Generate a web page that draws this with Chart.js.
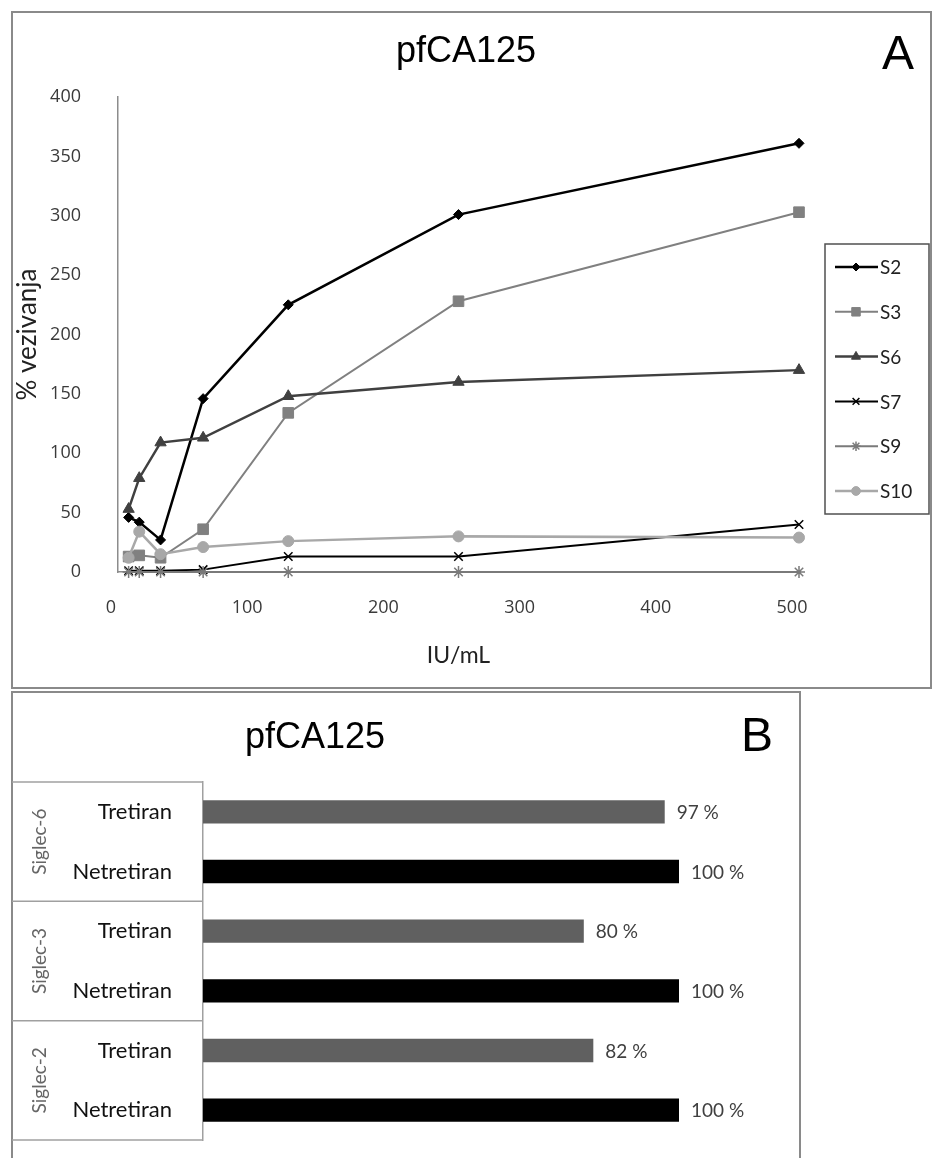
<!DOCTYPE html>
<html>
<head>
<meta charset="utf-8">
<title>pfCA125</title>
<script src="https://cdn.jsdelivr.net/npm/chart.js@4.4.1/dist/chart.umd.min.js"></script>
<style>
  html, body { margin: 0; padding: 0; background: #fff; }
  #wrap { position: relative; width: 933px; height: 1158px; }
  canvas { position: absolute; left: 0; }
  #chartA { top: 0; }
  #chartB { top: 690px; }
</style>
</head>
<body>
<div id="wrap">
  <canvas id="chartA" width="933" height="690"></canvas>
  <canvas id="chartB" width="933" height="468"></canvas>
</div>
<script>
// panel A - binding vs concentration
const titleText = 'pfCA125';
const concentrations = [7.8, 15.6, 31.25, 62.5, 125, 250, 500];
const seriesNames = ['S2', 'S3', 'S6', 'S7', 'S9', 'S10'];
const s2 = [46, 42, 27, 146, 225, 301, 361];
const s3 = [13, 14, 12, 36, 134, 228, 303];
const s6 = [53, 79, 109, 113, 148, 160, 170];
const s7 = [1, 1, 1, 2, 13, 13, 40];
const s9 = [0, 0, 0, 0, 0, 0, 0];
const s10 = [12, 34, 15, 21, 26, 30, 29];
const xTicks = [0, 100, 200, 300, 400, 500];
const yTicks = [0, 50, 100, 150, 200, 250, 300, 350, 400];

// panel B - treated vs untreated
const bCategories = ['Tretiran', 'Netretiran', 'Tretiran', 'Netretiran', 'Tretiran', 'Netretiran'];
const bGroups = ['Siglec-6', 'Siglec-3', 'Siglec-2'];
const bValues = [97, 100, 80, 100, 82, 100];

const tickFont = { family: 'Open Sans', size: 18 };
const tickColor = '#3a3a3a';

function pts(vals) {
  return concentrations.map((c, i) => ({ x: c, y: vals[i] }));
}

const styles = [
  { color: '#000000', width: 2.5, point: 'rectRot', r: 5 },
  { color: '#808080', width: 2, point: 'rect', r: 7.5 },
  { color: '#404040', width: 2.5, point: 'triangle', r: 6.5 },
  { color: '#000000', width: 2, point: 'crossRot', r: 6 },
  { color: '#7a7a7a', width: 2, point: 'star', r: 6 },
  { color: '#a8a8a8', width: 2.5, point: 'circle', r: 5.5 }
];
const seriesValues = [s2, s3, s6, s7, s9, s10];

const datasetsA = seriesNames.map((name, i) => ({
  label: name,
  data: pts(seriesValues[i]),
  borderColor: styles[i].color,
  borderWidth: styles[i].width,
  pointStyle: styles[i].point,
  pointRadius: styles[i].r,
  pointBackgroundColor: styles[i].color,
  pointBorderColor: styles[i].color,
  pointBorderWidth: (styles[i].point === 'crossRot' || styles[i].point === 'star') ? 1.5 : 1,
  tension: 0,
  clip: false,
  order: seriesNames.length - i
}));

function drawMarker(ctx, ds, x, y, r) {
  ctx.fillStyle = ds.pointBackgroundColor;
  ctx.strokeStyle = ds.pointBorderColor;
  ctx.lineWidth = ds.pointBorderWidth;
  if (Chart.helpers && Chart.helpers.drawPoint) {
    Chart.helpers.drawPoint(ctx, { pointStyle: ds.pointStyle, radius: r, rotation: 0, borderWidth: ds.pointBorderWidth }, x, y);
  } else {
    ctx.beginPath();
    ctx.arc(x, y, r, 0, Math.PI * 2);
    ctx.fill();
  }
}

const panelA = {
  id: 'panelA',
  beforeDraw(chart) {
    const ctx = chart.ctx;
    ctx.save();
    ctx.fillStyle = '#fff';
    ctx.fillRect(0, 0, chart.width, chart.height);
    ctx.strokeStyle = '#8a8a8a';
    ctx.lineWidth = 2;
    ctx.strokeRect(12, 12, 919, 676);
    ctx.fillStyle = '#000';
    ctx.textAlign = 'center';
    ctx.textBaseline = 'middle';
    ctx.font = '36px "Liberation Sans"';
    ctx.fillText(titleText, 466, 52);
    ctx.font = '48px "Liberation Sans"';
    ctx.fillText('A', 898, 56);
    ctx.restore();
  },
  afterDraw(chart) {
    // legend box on the right
    const ctx = chart.ctx;
    ctx.save();
    ctx.strokeStyle = '#505050';
    ctx.lineWidth = 1.5;
    ctx.strokeRect(825, 244, 104, 270);
    chart.data.datasets.forEach((ds, i) => {
      const y = 267 + i * 44.8;
      ctx.strokeStyle = ds.borderColor;
      ctx.lineWidth = ds.borderWidth;
      ctx.beginPath();
      ctx.moveTo(835, y);
      ctx.lineTo(878, y);
      ctx.stroke();
      drawMarker(ctx, ds, 856, y, ds.pointRadius * 0.8);
      ctx.fillStyle = '#222';
      ctx.font = '19px Lato';
      ctx.textAlign = 'left';
      ctx.textBaseline = 'middle';
      ctx.fillText(ds.label, 880, y + 1);
    });
    ctx.restore();
  }
};

new Chart(document.getElementById('chartA'), {
  type: 'line',
  data: { datasets: datasetsA },
  options: {
    responsive: false,
    animation: false,
    devicePixelRatio: 1,
    events: [],
    layout: { padding: { top: 97, right: 134, bottom: 0, left: 0 } },
    scales: {
      x: {
        type: 'linear',
        min: xTicks[0],
        max: xTicks[xTicks.length - 1],
        afterFit: s => { s.height = 118; },
        afterBuildTicks: s => { s.ticks = xTicks.map(v => ({ value: v })); },
        grid: { display: false, drawTicks: false },
        border: { display: true, color: '#8c8c8c', width: 1.5 },
        ticks: { padding: 25, labelOffset: -7, font: tickFont, color: tickColor },
        title: { display: true, text: 'IU/mL', font: { family: 'Lato', size: 23 }, color: '#222', padding: 21 }
      },
      y: {
        min: yTicks[0],
        max: yTicks[yTicks.length - 1],
        afterFit: s => { s.width = 118; },
        afterBuildTicks: s => { s.ticks = yTicks.map(v => ({ value: v })); },
        grid: { display: false, drawTicks: false },
        border: { display: true, color: '#8c8c8c', width: 1.5 },
        ticks: { padding: 37, font: tickFont, color: tickColor },
        title: { display: true, text: '% vezivanja', font: { family: 'Lato', size: 26 }, color: '#222', padding: 12 }
      }
    },
    plugins: { legend: { display: false }, tooltip: { enabled: false } }
  },
  plugins: [panelA]
});

// panel B
const panelB = {
  id: 'panelB',
  beforeDraw(chart) {
    const ctx = chart.ctx;
    ctx.save();
    ctx.fillStyle = '#fff';
    ctx.fillRect(0, 0, chart.width, chart.height);
    ctx.strokeStyle = '#8a8a8a';
    ctx.lineWidth = 2;
    ctx.strokeRect(12, 2, 788, 470);
    ctx.fillStyle = '#000';
    ctx.textAlign = 'center';
    ctx.textBaseline = 'middle';
    ctx.font = '36px "Liberation Sans"';
    ctx.fillText(titleText, 315, 48);
    ctx.font = '48px "Liberation Sans"';
    ctx.fillText('B', 757, 48);
    ctx.restore();
  },
  afterDraw(chart) {
    const ctx = chart.ctx;
    const y = chart.scales.y;
    const area = chart.chartArea;
    ctx.save();
    // group frame
    ctx.strokeStyle = '#a0a0a0';
    ctx.lineWidth = 1.5;
    for (let g = 0; g <= bGroups.length; g++) {
      const py = y.getPixelForValue(g * 2 - 0.5);
      ctx.beginPath();
      ctx.moveTo(12, py);
      ctx.lineTo(area.left, py);
      ctx.stroke();
    }
    // group labels, rotated
    ctx.fillStyle = '#666';
    ctx.font = '19px Lato';
    ctx.textAlign = 'center';
    ctx.textBaseline = 'middle';
    bGroups.forEach((name, g) => {
      const py = y.getPixelForValue(g * 2 + 0.5);
      ctx.save();
      ctx.translate(40, py);
      ctx.rotate(-Math.PI / 2);
      ctx.fillText(name, 0, 0);
      ctx.restore();
    });
    // value labels
    const meta = chart.getDatasetMeta(0);
    ctx.fillStyle = '#404040';
    ctx.font = '19px Lato';
    ctx.textAlign = 'left';
    meta.data.forEach((bar, i) => {
      ctx.fillText(bValues[i] + ' %', bar.x + 12, bar.y + 1);
    });
    ctx.restore();
  }
};

new Chart(document.getElementById('chartB'), {
  type: 'bar',
  data: {
    labels: bCategories,
    datasets: [{
      data: bValues,
      backgroundColor: bCategories.map(c => c === 'Tretiran' ? '#606060' : '#000000'),
      barPercentage: 0.39,
      categoryPercentage: 1
    }]
  },
  options: {
    indexAxis: 'y',
    responsive: false,
    animation: false,
    devicePixelRatio: 1,
    events: [],
    layout: { padding: { top: 92, right: 254, bottom: 18, left: 0 } },
    scales: {
      x: { display: false, min: 0, max: 100 },
      y: {
        afterFit: s => { s.width = 203; },
        grid: { display: false, drawTicks: true, tickLength: 31 },
        border: { display: true, color: '#a0a0a0', width: 1.5 },
        ticks: { padding: 0, font: { family: 'Lato', size: 22 }, color: '#111' }
      }
    },
    plugins: { legend: { display: false }, tooltip: { enabled: false } }
  },
  plugins: [panelB]
});
</script>
</body>
</html>
